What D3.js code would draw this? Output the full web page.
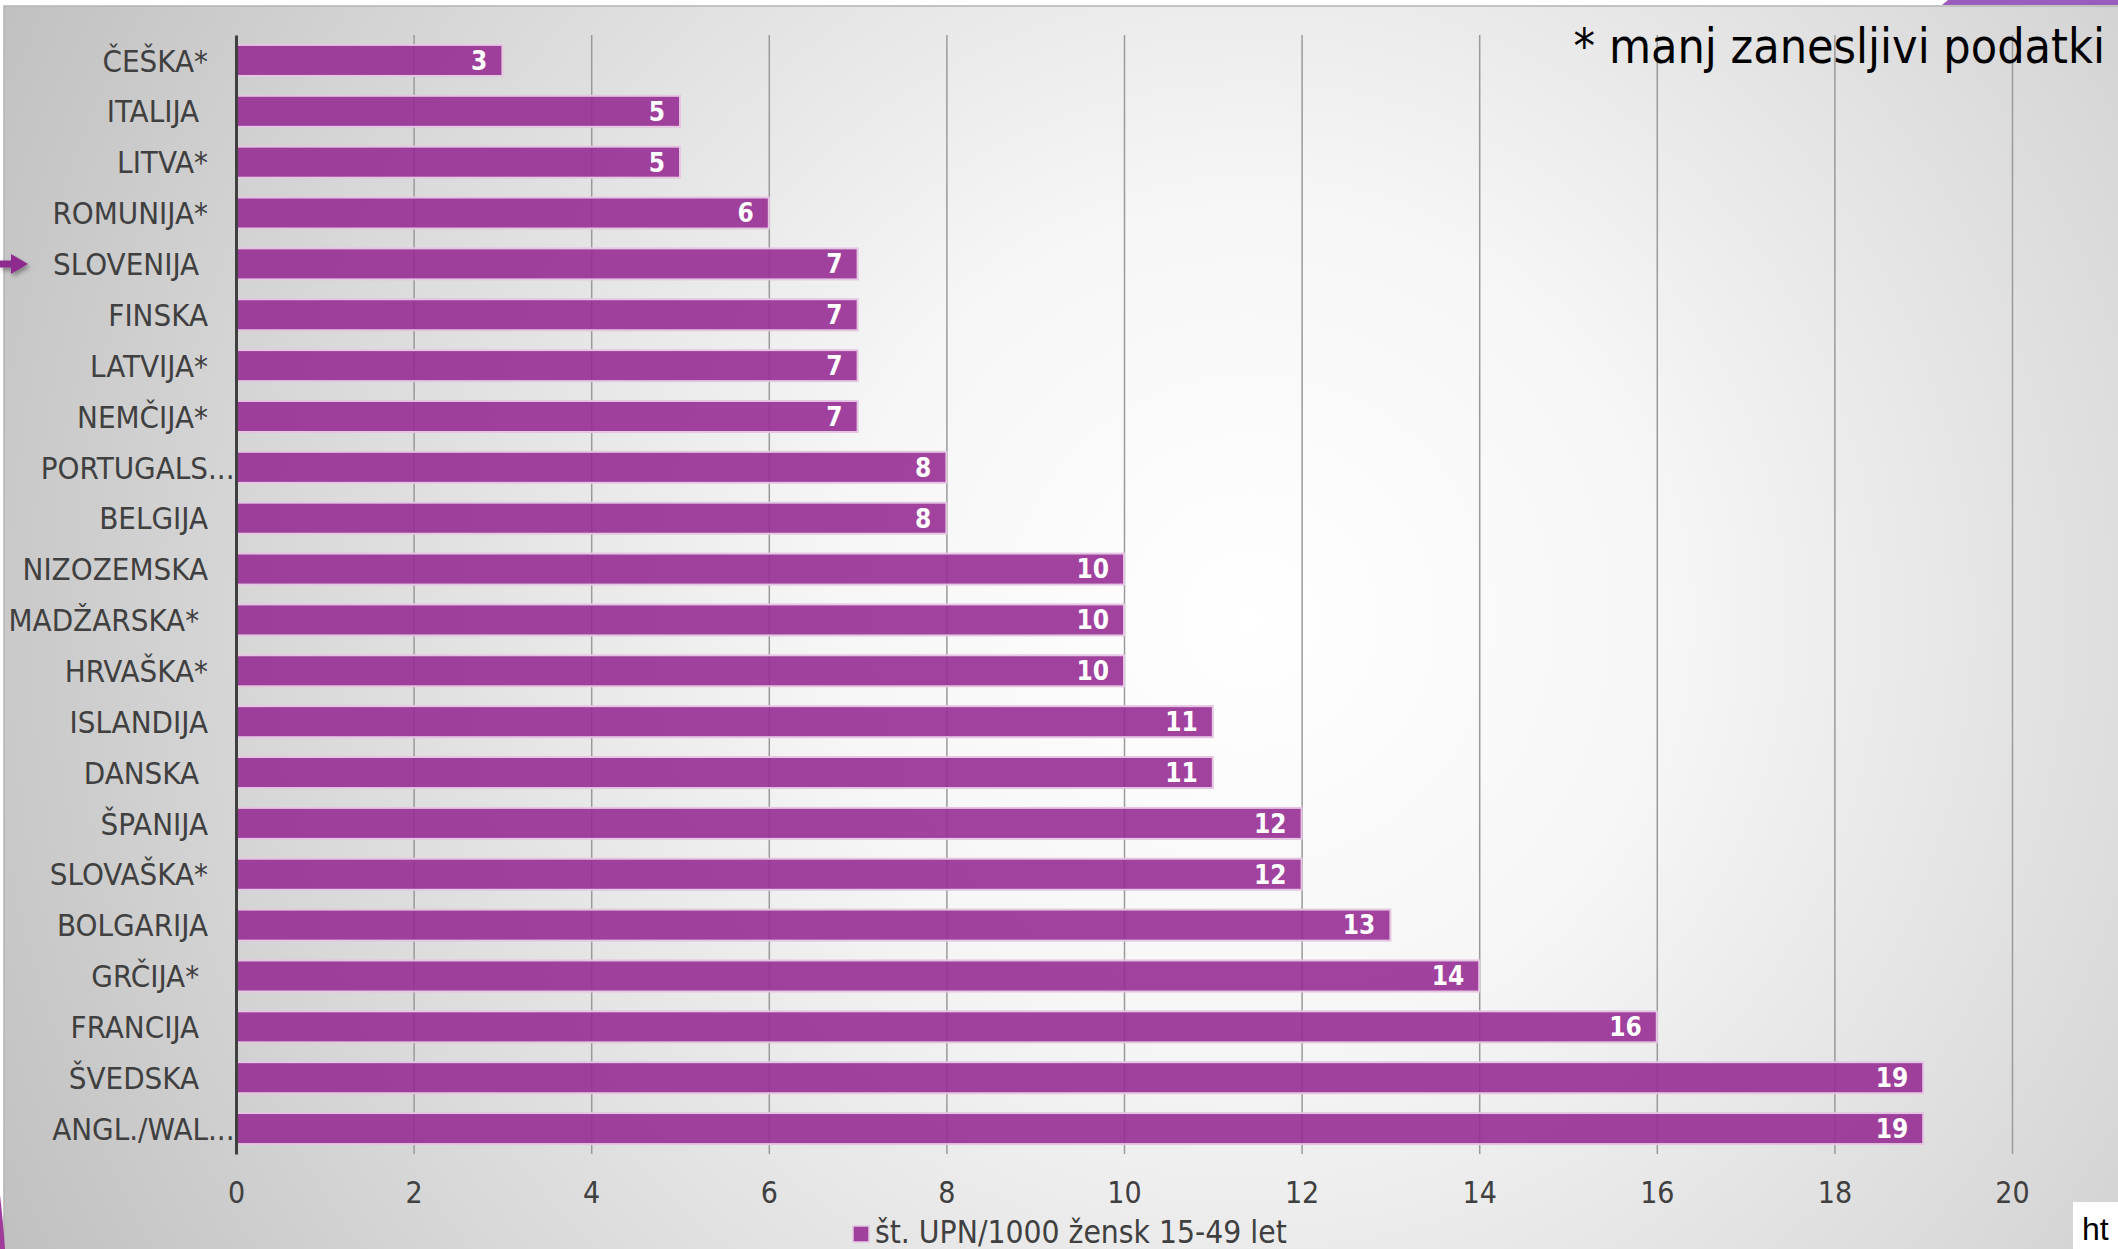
<!DOCTYPE html>
<html>
<head>
<meta charset="utf-8">
<script src="https://cdn.jsdelivr.net/npm/d3@7"></script>
<style>
  html, body { margin: 0; padding: 0; background: #ffffff; overflow: hidden; }
  svg { display: block; }
  .cond { font-family: "DejaVu Sans Condensed", "DejaVu Sans", sans-serif; font-stretch: condensed; }
</style>
</head>
<body>
<svg id="chart" width="2118" height="1249"></svg>
<script>
// Induced abortions per 1000 women aged 15-49, by country (* = less reliable data)
const categories = [
  "ČEŠKA*", "ITALIJA ", "LITVA*", "ROMUNIJA*", "SLOVENIJA ", "FINSKA", "LATVIJA*",
  "NEMČIJA*", "PORTUGALS...", "BELGIJA", "NIZOZEMSKA", "MADŽARSKA* ", "HRVAŠKA*",
  "ISLANDIJA", "DANSKA ", "ŠPANIJA", "SLOVAŠKA*", "BOLGARIJA", "GRČIJA* ", "FRANCIJA ",
  "ŠVEDSKA ", "ANGL./WAL..."
];
const values = [3, 5, 5, 6, 7, 7, 7, 7, 8, 8, 10, 10, 10, 11, 11, 12, 12, 13, 14, 16, 19, 19];
const xTicks = [0, 2, 4, 6, 8, 10, 12, 14, 16, 18, 20];
const seriesName = "št. UPN/1000 žensk 15-49 let";
const noteText = "* manj zanesljivi podatki";
const highlighted = "SLOVENIJA ";

const W = 2118, H = 1249;
const plot = { left: 236, right: 2012, top: 35, bottom: 1154 };
const barColor = "#962e93";
const textGrey = "#404040";

const svg = d3.select("#chart");
const defs = svg.append("defs");

// soft grey slide backdrop, brightest towards the middle
const grad = defs.append("radialGradient")
  .attr("id", "bg").attr("gradientUnits", "userSpaceOnUse")
  .attr("cx", 1250).attr("cy", 620).attr("r", 1400);
[[0, "#ffffff"], [0.3, "#f6f6f6"], [0.7, "#d8d8d8"], [1, "#c0c0c0"]].forEach(([o, c]) =>
  grad.append("stop").attr("offset", o).attr("stop-color", c));

const shadow = defs.append("filter").attr("id", "shadow")
  .attr("x", "-50%").attr("y", "-50%").attr("width", "200%").attr("height", "200%");
shadow.append("feDropShadow").attr("dx", 2).attr("dy", 3).attr("stdDeviation", 2)
  .attr("flood-color", "#000").attr("flood-opacity", 0.35);

svg.append("rect").attr("width", W).attr("height", H).attr("fill", "#ffffff");
svg.append("rect").attr("x", 4).attr("y", 6).attr("width", W - 4).attr("height", H - 6)
  .attr("fill", "url(#bg)");
svg.append("path").attr("d", `M4,${H} V6 H${W}`).attr("fill", "none")
  .attr("stroke", "#b4b4b4").attr("stroke-width", 1.5);

// slide decorations around the frame
svg.append("path").attr("d", "M1948,0 H2118 V5 H1942 Z").attr("fill", "#9a5cbd");
svg.append("path").attr("d", "M0,1195 Q3,1220 5,1249 H0 Z").attr("fill", "#a03c9c");
svg.append("rect").attr("x", 2073).attr("y", 1202).attr("width", 45).attr("height", 47).attr("fill", "#ffffff");
svg.append("text").attr("x", 2082).attr("y", 1240)
  .attr("font-family", "Liberation Sans, Arial, sans-serif").attr("font-size", 32)
  .attr("fill", "#000").text("ht");

// scales
const x = d3.scaleLinear().domain([0, 20]).range([plot.left, plot.right]);
const y = d3.scaleBand().domain(categories).range([plot.top, plot.bottom])
  .paddingInner(0.39).paddingOuter(0.195);

// vertical gridlines + value axis labels
const xAxis = d3.axisBottom(x).tickValues(xTicks)
  .tickSize(-(plot.bottom - plot.top)).tickPadding(28).tickFormat(d3.format("d"));
const gx = svg.append("g").attr("transform", `translate(0,${plot.bottom})`).call(xAxis);
gx.select(".domain").remove();
gx.selectAll(".tick line").attr("stroke", "#9a9a9a").attr("stroke-width", 1.5)
  .filter(d => d === 0).remove();
gx.selectAll(".tick text").attr("class", "cond").attr("font-size", 30)
  .attr("fill", textGrey);

// bars
svg.append("g").selectAll("rect").data(values).join("rect")
  .attr("x", x(0))
  .attr("y", (d, i) => y(categories[i]))
  .attr("width", d => x(d) - x(0))
  .attr("height", y.bandwidth())
  .attr("fill", barColor).attr("fill-opacity", 0.9)
  .attr("stroke", "#e4c6e2").attr("stroke-width", 2);

// value labels inside the bar ends
svg.append("g").selectAll("text").data(values).join("text")
  .attr("class", "cond")
  .attr("x", d => x(d) - 15)
  .attr("y", (d, i) => y(categories[i]) + y.bandwidth() / 2)
  .attr("dy", "0.36em")
  .attr("text-anchor", "end")
  .attr("font-size", 26).attr("font-weight", "bold").attr("fill", "#ffffff")
  .text(d => d);

// category axis
const yAxis = d3.axisLeft(y).tickSize(0).tickSizeOuter(0).tickPadding(0);
const gy = svg.append("g").attr("transform", `translate(${x(0)},0)`).call(yAxis);
gy.select(".domain").attr("stroke", "#404040").attr("stroke-width", 3);
gy.selectAll(".tick text").remove();

const labelRight = 208;
const labels = svg.append("g").selectAll("text").data(categories).join("text")
  .attr("class", "cond")
  .attr("xml:space", "preserve").style("white-space", "pre")
  .attr("x", labelRight)
  .attr("y", d => y(d) + y.bandwidth() / 2)
  .attr("dy", "0.36em")
  .attr("text-anchor", "end")
  .attr("font-size", 31).attr("fill", textGrey)
  .text(d => d);
// truncated names let their ellipsis hang past the label edge
labels.each(function (d) {
  if (d.endsWith("...")) {
    const n = d.length;
    const w = this.getSubStringLength(n - 3, 3);
    d3.select(this).attr("x", labelRight + w);
  }
});

// arrow pointing at Slovenia
const ay = y(highlighted) + y.bandwidth() / 2;
svg.append("path")
  .attr("d", `M0,${ay - 3.5} H11 V${ay - 10} L28,${ay} L11,${ay + 10} V${ay + 3.5} H0 Z`)
  .attr("fill", "#8e2a8e").attr("filter", "url(#shadow)");

// legend
const legendY = 1243;
svg.append("rect").attr("x", 853).attr("y", legendY - 17).attr("width", 16).attr("height", 16)
  .attr("fill", barColor).attr("fill-opacity", 0.9)
  .attr("stroke", "#e4c6e2").attr("stroke-width", 1.5);
svg.append("text").attr("class", "cond").attr("x", 875).attr("y", legendY)
  .attr("font-size", 31.5).attr("fill", textGrey).text(seriesName);

// footnote
svg.append("text").attr("class", "cond").attr("x", 2105).attr("y", 63)
  .attr("text-anchor", "end").attr("font-size", 48).attr("fill", "#000000")
  .text(noteText);
</script>
</body>
</html>
